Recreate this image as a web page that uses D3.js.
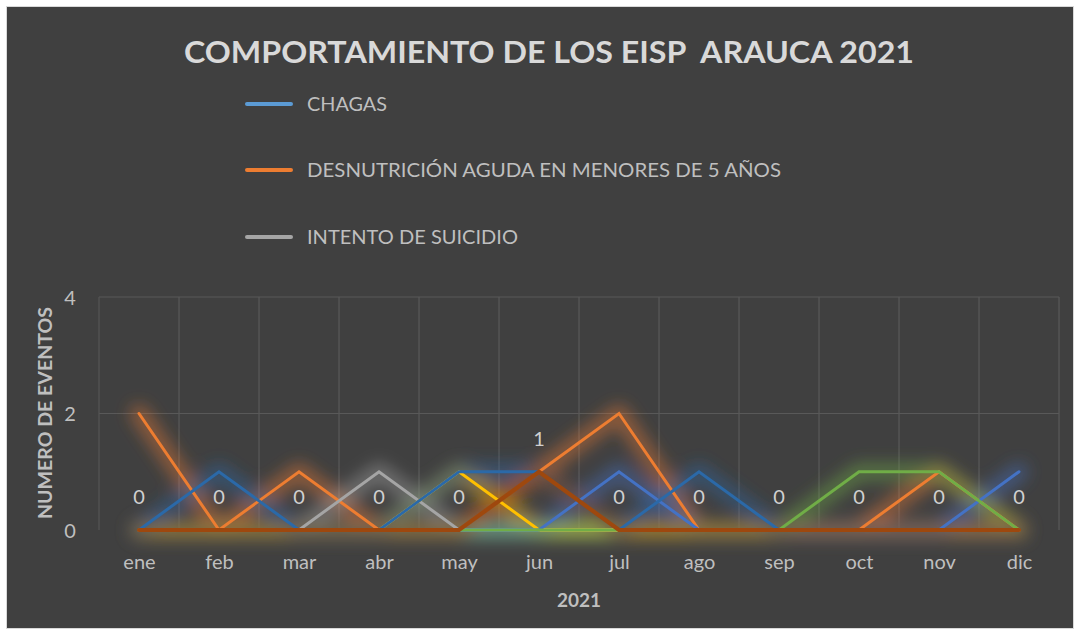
<!DOCTYPE html>
<html><head><meta charset="utf-8">
<script src="https://cdn.jsdelivr.net/npm/d3@7"></script>
<style>body{margin:0;background:#fff}svg{display:block}text{font-family:Lato,"Open Sans",sans-serif}</style>
</head><body><svg id="c" width="1079" height="629"></svg>
<script>
const months = ["ene","feb","mar","abr","may","jun","jul","ago","sep","oct","nov","dic"];
const yTicks = [0,2,4];
const seriesNames = ["CHAGAS","DESNUTRICIÓN AGUDA EN MENORES DE 5 AÑOS","INTENTO DE SUICIDIO","Serie 4","Serie 5","Serie 6","Serie 7","Serie 8"];
const chagas   = [0,0,0,0,0,0,0,0,0,0,0,0];
const desnut   = [2,0,1,0,0,1,2,0,0,0,1,0];
const suicidio = [0,0,0,1,0,0,0,0,0,0,0,0];
const serie4   = [0,0,0,0,1,0,0,0,0,0,0,0];
const serie5   = [0,0,0,0,0,0,1,0,0,0,0,1];
const serie6   = [0,0,0,0,0,0,0,0,0,1,1,0];
const serie7   = [0,1,0,0,1,1,0,1,0,0,0,0];
const serie8   = [0,0,0,0,0,1,0,0,0,0,0,0];
const colors = ["#5B9BD5","#ED7D31","#A5A5A5","#FFC000","#4472C4","#70AD47","#2B69A8","#9E480E"];
const allSeries = [chagas,desnut,suicidio,serie4,serie5,serie6,serie7,serie8];
const legendCount = 3;

const svg = d3.select("#c");
svg.append("rect").attr("x",6.5).attr("y",6.5).attr("width",1067).attr("height",622).attr("fill","#404040").attr("stroke","#d9d9d9").attr("stroke-width",1);

const defs = svg.append("defs");
const f = defs.append("filter").attr("id","glow").attr("x","-20%").attr("y","-50%").attr("width","140%").attr("height","200%");
f.append("feGaussianBlur").attr("stdDeviation",8);

const x = d3.scalePoint().domain(months).range([139,1019]);
const y = d3.scaleLinear().domain([0,4]).range([530,297]);
const plotL = 99, plotR = 1059;

// gridlines
const g = svg.append("g");
g.selectAll(".hg").data(yTicks.slice(1)).join("line")
  .attr("x1",plotL).attr("x2",plotR).attr("y1",d=>y(d)).attr("y2",d=>y(d))
  .attr("stroke","#595959").attr("stroke-width",1.2);
const bounds = d3.range(months.length+1).map(i=>plotL + i*x.step());
g.selectAll(".vg").data(bounds).join("line")
  .attr("x1",d=>d).attr("x2",d=>d).attr("y1",y(4)).attr("y2",y(0))
  .attr("stroke",(d,i)=>i===0?"#555":"#595959").attr("stroke-width",1.2);

// y axis labels
const yAxis = d3.axisLeft(y).tickValues(yTicks).tickFormat(d3.format("d")).tickSize(0).tickPadding(0);
const ya = svg.append("g").attr("transform","translate(70,0)").call(yAxis);
ya.select(".domain").remove();
ya.selectAll("text").attr("fill","#bfbfbf").attr("font-size",20).attr("text-anchor","middle").attr("dy","0.35em").style("font-family","Lato,sans-serif");

// x axis labels
const xAxis = d3.axisBottom(x).tickSize(0).tickPadding(0);
const xa = svg.append("g").attr("transform","translate(0,562)").call(xAxis);
xa.select(".domain").remove();
xa.selectAll("text").attr("fill","#bfbfbf").attr("font-size",20).attr("dy","0.35em").style("font-family","Lato,sans-serif");

const line = d3.line().x((d,i)=>x(months[i])).y(d=>y(d));

// glows
const glowG = svg.append("g").attr("filter","url(#glow)");
allSeries.forEach((s,k)=>{
  glowG.append("path").attr("d",line(s)).attr("fill","none").attr("stroke",colors[k])
    .attr("stroke-width",18).attr("stroke-opacity",0.45).attr("stroke-linejoin","round").attr("stroke-linecap","round");
});
// lines
allSeries.forEach((s,k)=>{
  svg.append("path").attr("d",line(s)).attr("fill","none").attr("stroke",colors[k])
    .attr("stroke-width",k===7?4.2:3).attr("stroke-linejoin","miter").attr("stroke-linecap","round");
});

// data labels for last series
svg.selectAll(".dl").data(serie8).join("text")
  .attr("x",(d,i)=>x(months[i])).attr("y",d=>y(d)-33)
  .attr("text-anchor","middle").attr("dy","0.35em").attr("fill","#d0d0d0").attr("font-size",20)
  .text(d=>d);

// title
svg.append("text").attr("x",549).attr("y",52).attr("text-anchor","middle").attr("dy","0.35em")
  .attr("fill","#d9d9d9").attr("font-size",31).attr("font-weight","bold")
  .attr("textLength",730).attr("lengthAdjust","spacingAndGlyphs")
  .text("COMPORTAMIENTO DE LOS EISP  ARAUCA 2021").style("white-space","pre");

// legend
const legY = [104,170,237];
const legW = [80,474,211];
for(let i=0;i<legendCount;i++){
  svg.append("line").attr("x1",247).attr("x2",291).attr("y1",legY[i]).attr("y2",legY[i])
    .attr("stroke",colors[i]).attr("stroke-width",4).attr("stroke-linecap","round");
  svg.append("text").attr("x",307).attr("y",legY[i]).attr("dy","0.35em").attr("fill","#bfbfbf").attr("font-size",20)
    .attr("textLength",legW[i]).attr("lengthAdjust","spacingAndGlyphs").text(seriesNames[i]);
}

// axis titles
svg.append("text").attr("transform","translate(45,413) rotate(-90)").attr("text-anchor","middle").attr("dy","0.35em")
  .attr("fill","#bfbfbf").attr("font-size",19).attr("font-weight","bold").attr("textLength",212).attr("lengthAdjust","spacingAndGlyphs").text("NUMERO DE EVENTOS");
svg.append("text").attr("x",579).attr("y",600).attr("text-anchor","middle").attr("dy","0.35em")
  .attr("fill","#bfbfbf").attr("font-size",19).attr("font-weight","bold").text("2021");
</script></body></html>
